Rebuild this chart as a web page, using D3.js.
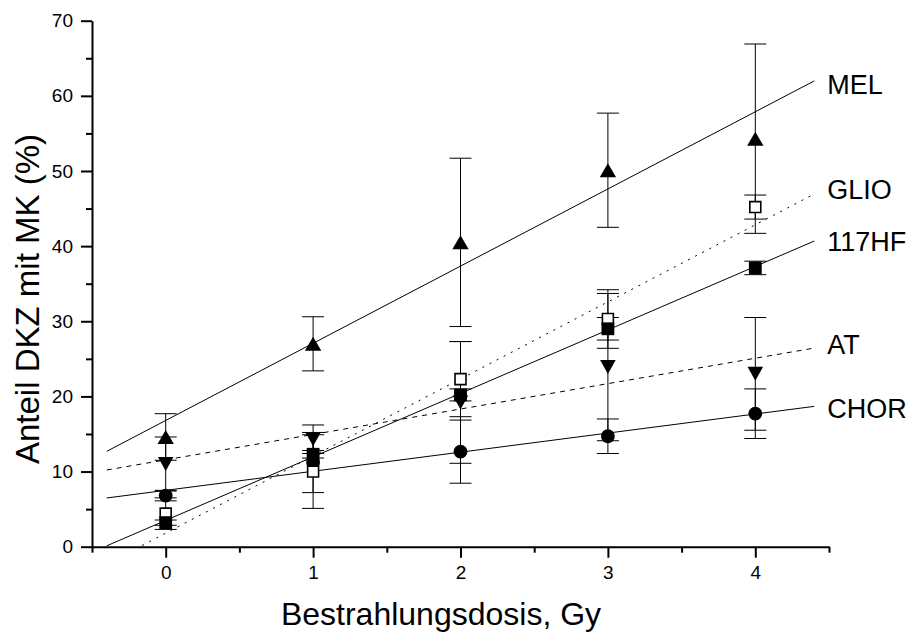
<!DOCTYPE html>
<html><head><meta charset="utf-8">
<script src="https://cdn.jsdelivr.net/npm/d3@7"></script>
<style>
body{margin:0;background:#fff}
svg{display:block}
text{font-family:Arial,"Liberation Sans",Helvetica,sans-serif;fill:#000}
</style>
</head><body>
<svg id="c" width="911" height="633"></svg>
<script>
// ---------- data ----------
const doses = [0, 1, 2, 3, 4];
const seriesNames = ["MEL", "GLIO", "117HF", "AT", "CHOR"];

const melValues   = [14.6, 27.0, 40.5, 50.1, 54.3];
const melErrors   = [3.1, 3.6, 11.2, 7.6, 12.6];
const glioValues  = [4.4, 10.0, 22.3, 30.3, 45.2];
const glioErrors  = [2.1, 4.9, 5.0, 3.9, 1.6];
const hfValues    = [3.2, 12.3, 20.2, 29.0, 37.1];
const hfErrors    = [0.35, 0.5, 0.8, 1.5, 0.9];
const atValues    = [11.0, 14.3, 19.2, 23.9, 23.0];
const atErrors    = [3.6, 1.9, 8.1, 9.8, 7.5];
const chorValues  = [6.8, 11.2, 12.65, 14.7, 17.7];
const chorErrors  = [0.7, 4.0, 4.2, 2.3, 3.3];

// linear fits (intercept, slope) in series order
const fitIntercepts = [16.8, 1.8, 3.5, 11.56, 7.5];
const fitSlopes     = [10.27, 10.26, 8.45, 3.38, 2.54];
const fitRange      = [-0.4, 4.4];
const labelValues   = [61.5, 47.5, 40.7, 27.0, 18.4];

const xTickValues = [0, 1, 2, 3, 4];
const xMinorTicks = [-0.5, 0.5, 1.5, 2.5, 3.5, 4.5];
const yTickValues = [0, 10, 20, 30, 40, 50, 60, 70];
const yMinorTicks = [5, 15, 25, 35, 45, 55, 65];
const xTitle = "Bestrahlungsdosis, Gy";
const yTitle = "Anteil DKZ mit MK (%)";

// ---------- layout ----------
const svg = d3.select("#c");
const x = d3.scaleLinear().domain([-0.5, 4.5]).range([92, 829]);
const y = d3.scaleLinear().domain([0, 70]).range([546.7, 20.7]);

const valueSets = [melValues, glioValues, hfValues, atValues, chorValues];
const errorSets = [melErrors, glioErrors, hfErrors, atErrors, chorErrors];
const markerKinds = ["up", "openSquare", "square", "down", "circle"];
const dashes = [null, "2,6", null, "5,5", null];

svg.append("defs").append("clipPath").attr("id", "plot")
  .append("rect").attr("x", x.range()[0]).attr("y", y.range()[1])
  .attr("width", x.range()[1] - x.range()[0]).attr("height", y.range()[0] - y.range()[1]);

// fit lines
const fitG = svg.append("g").attr("clip-path", "url(#plot)");
seriesNames.forEach((name, i) => {
  const pts = fitRange.map(d => [d, fitIntercepts[i] + fitSlopes[i] * d]);
  fitG.append("path")
    .attr("d", d3.line().x(d => x(d[0])).y(d => y(d[1]))(pts))
    .attr("fill", "none").attr("stroke", "#000").attr("stroke-width", 1)
    .attr("stroke-dasharray", dashes[i]);
});

// labels
seriesNames.forEach((name, i) => {
  svg.append("text").attr("x", x(fitRange[1]) + 13).attr("y", y(labelValues[i]))
    .attr("dy", "0.36em").attr("font-size", 27).text(name);
});

// error bars
const capHalf = 11;
const errG = svg.append("g").attr("stroke", "#000").attr("stroke-width", 1);
seriesNames.forEach((name, i) => {
  doses.forEach((d, j) => {
    const v = valueSets[i][j], e = errorSets[i][j];
    const cx = x(d);
    errG.append("line").attr("x1", cx).attr("x2", cx).attr("y1", y(v - e)).attr("y2", y(v + e));
    [v - e, v + e].forEach(t => {
      errG.append("line").attr("x1", cx - capHalf).attr("x2", cx + capHalf).attr("y1", y(t)).attr("y2", y(t));
    });
  });
});

// markers
const triUp = { draw(ctx, size) { const w = 8.2, h = 7; ctx.moveTo(0, -h); ctx.lineTo(w, h); ctx.lineTo(-w, h); ctx.closePath(); } };
const triDown = { draw(ctx, size) { const w = 7.8, h = 7; ctx.moveTo(0, h); ctx.lineTo(w, -h); ctx.lineTo(-w, -h); ctx.closePath(); } };
const markG = svg.append("g");
const drawOrder = [0, 3, 4, 1, 2];
drawOrder.forEach(i => {
  const kind = markerKinds[i];
  doses.forEach((d, j) => {
    const v = valueSets[i][j];
    let sym, fill = "#000", stroke = "none", sw = 0;
    if (kind === "up") sym = d3.symbol().type(triUp);
    else if (kind === "down") sym = d3.symbol().type(triDown);
    else if (kind === "circle") sym = d3.symbol().type(d3.symbolCircle).size(150);
    else if (kind === "square") sym = d3.symbol().type(d3.symbolSquare).size(165);
    else { sym = d3.symbol().type(d3.symbolSquare).size(120); fill = "#fff"; stroke = "#000"; sw = 1.6; }
    markG.append("path").attr("d", sym()).attr("transform", `translate(${x(d)},${y(v)})`)
      .attr("fill", fill).attr("stroke", stroke).attr("stroke-width", sw);
  });
});

// axes
const axG = svg.append("g");
axG.append("g").attr("transform", `translate(0,${y(0)})`)
  .call(d3.axisBottom(x).tickValues(xTickValues).tickSize(11).tickPadding(8).tickSizeOuter(0).tickFormat(d3.format("d")));
axG.append("g").attr("transform", `translate(0,${y(0)})`)
  .call(d3.axisBottom(x).tickValues(xMinorTicks).tickSize(6).tickFormat("").tickSizeOuter(0))
  .select(".domain").remove();
axG.append("g").attr("transform", `translate(${x(-0.5)},0)`)
  .call(d3.axisLeft(y).tickValues(yTickValues).tickSize(11).tickPadding(8).tickSizeOuter(0).tickFormat(d3.format("d")));
axG.append("g").attr("transform", `translate(${x(-0.5)},0)`)
  .call(d3.axisLeft(y).tickValues(yMinorTicks).tickSize(6).tickFormat("").tickSizeOuter(0))
  .select(".domain").remove();
axG.selectAll("path.domain, .tick line").attr("stroke", "#000").attr("stroke-width", 2);
axG.selectAll(".tick text").attr("font-size", 19).attr("font-family", "Arial,'Liberation Sans',sans-serif").attr("fill", "#000");

// titles
svg.append("text").attr("x", 441).attr("y", 625)
  .attr("text-anchor", "middle").attr("font-size", 32).text(xTitle);
svg.append("text").attr("transform", `translate(39,299) rotate(-90)`)
  .attr("text-anchor", "middle").attr("font-size", 33).text(yTitle);
</script>
</body></html>
